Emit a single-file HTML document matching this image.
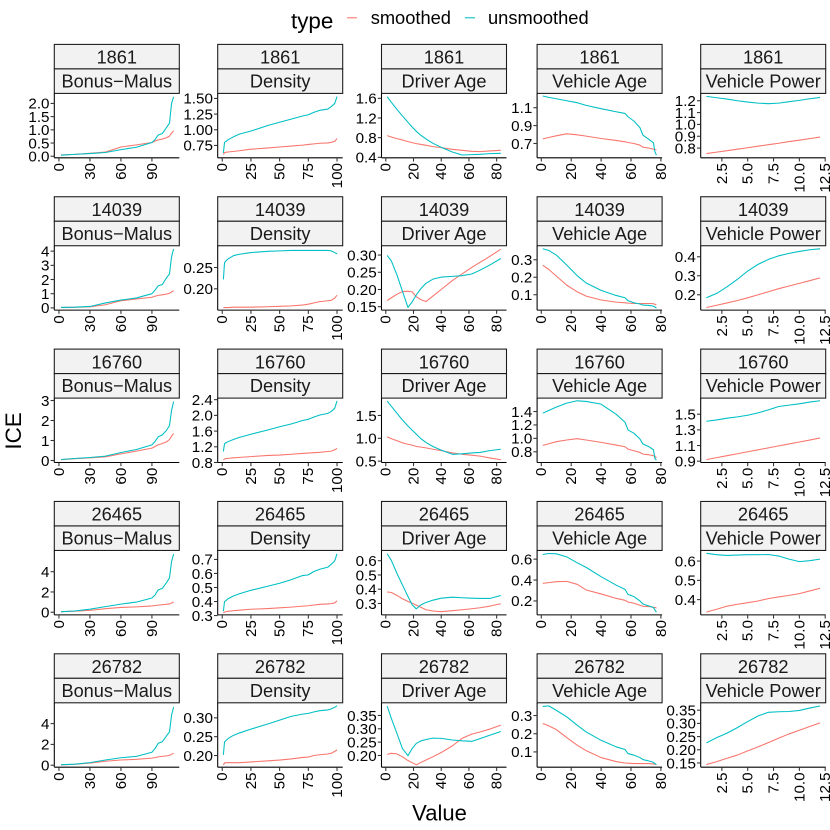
<!DOCTYPE html>
<html>
<head>
<meta charset="utf-8">
<title>ICE by feature</title>
<style>
html,body{margin:0;padding:0;background:#fff;}
svg{display:block;font-family:"Liberation Sans",sans-serif;}
</style>
</head>
<body>
<svg id="chart" width="830" height="830" viewBox="0 0 830 830" xmlns="http://www.w3.org/2000/svg">
  <g>
    <text x="291" y="28.5" font-size="22.4" fill="#000">type</text>
    <line x1="347" x2="357" y1="17.8" y2="17.8" stroke="#F8766D" stroke-width="1.07"/>
    <text x="370.7" y="24" font-size="18.3" fill="#000">smoothed</text>
    <line x1="465" x2="475" y1="17.8" y2="17.8" stroke="#00BFC4" stroke-width="1.07"/>
    <text x="488" y="24" font-size="18.3" fill="#000">unsmoothed</text>
  </g>
  <text transform="translate(21,431) rotate(-90)" text-anchor="middle" font-size="22.4" fill="#000">ICE</text>
  <text x="439.5" y="820.5" text-anchor="middle" font-size="22" fill="#000">Value</text>
  <g id="panels"></g>
</svg>
<script>
// Facet categories
const rowIds = ['1861', '14039', '16760', '26465', '26782'];
const features = ['Bonus\u2212Malus', 'Density', 'Driver Age', 'Vehicle Age', 'Vehicle Power'];

// X values at which each feature's curves were read
const xBonus = [2, 15, 30, 45, 60, 75, 90, 93, 96, 100, 104, 107, 109, 111];
const xDensity = [1, 2, 3, 5, 10, 15, 25, 40, 50, 60, 70, 75, 80, 85, 92, 95, 98, 100];
const xDriver = [1, 4, 8, 12, 16, 19, 22, 25, 29, 34, 40, 48, 55, 62, 68, 75, 83];
const xVehAge = [1, 5, 10, 17, 24, 30, 40, 50, 56, 58, 62, 66, 68, 72, 75, 76, 77];
const xVehPow = [1, 2, 3, 4, 5, 6, 7, 8, 9, 10, 11, 12];

// X axis domains and tick labels, by feature
const xDomainBonus = [-4.5, 116.5];
const xDomainDensity = [-3.95, 104.95];
const xDomainDriver = [-3.1, 87.1];
const xDomainVehAge = [-2.8, 80.8];
const xDomainVehPow = [0.45, 12.55];
const xTicksBonus = ['0', '30', '60', '90'];
const xTicksDensity = ['0', '25', '50', '75', '100'];
const xTicksDriver = ['0', '20', '40', '60', '80'];
const xTicksVehAge = ['0', '20', '40', '60', '80'];
const xTicksVehPow = ['2.5', '5.0', '7.5', '10.0', '12.5'];

// Y axis domains, one array per row
const yDomains1861 = [[-0.06, 2.38], [0.553, 1.58], [0.39, 1.70], [0.54, 1.26], [0.718, 1.262]];
const yDomains14039 = [[-0.16, 4.38], [0.15, 0.301], [0.14, 0.327], [0.012, 0.38], [0.119, 0.458]];
const yDomains16760 = [[-0.1, 3.12], [0.8, 2.44], [0.47, 1.88], [0.64, 1.6], [0.883, 1.706]];
const yDomains26465 = [[-0.26, 6.1], [0.305, 0.764], [0.22, 0.672], [0.067, 0.683], [0.321, 0.655]];
const yDomains26782 = [[-0.19, 6.0], [0.169, 0.34], [0.156, 0.3975], [0.016, 0.37], [0.134, 0.378]];

// Y tick labels, one array per row
const yTicks1861 = [['0.0', '0.5', '1.0', '1.5', '2.0'], ['0.75', '1.00', '1.25', '1.50'], ['0.4', '0.8', '1.2', '1.6'], ['0.7', '0.9', '1.1'], ['0.8', '0.9', '1.0', '1.1', '1.2']];
const yTicks14039 = [['0', '1', '2', '3', '4'], ['0.20', '0.25'], ['0.15', '0.20', '0.25', '0.30'], ['0.1', '0.2', '0.3'], ['0.2', '0.3', '0.4']];
const yTicks16760 = [['0', '1', '2', '3'], ['0.8', '1.2', '1.6', '2.0', '2.4'], ['0.5', '1.0', '1.5'], ['0.8', '1.0', '1.2', '1.4'], ['0.9', '1.1', '1.3', '1.5']];
const yTicks26465 = [['0', '2', '4'], ['0.3', '0.4', '0.5', '0.6', '0.7'], ['0.3', '0.4', '0.5', '0.6'], ['0.2', '0.4', '0.6'], ['0.4', '0.5', '0.6']];
const yTicks26782 = [['0', '2', '4'], ['0.20', '0.25', '0.30'], ['0.20', '0.25', '0.30', '0.35'], ['0.1', '0.2', '0.3'], ['0.15', '0.20', '0.25', '0.30', '0.35']];

// Row 1861
const un1861Bonus = [0.04, 0.07, 0.10, 0.14, 0.25, 0.34, 0.52, 0.63, 0.80, 0.86, 1.08, 1.25, 2.0, 2.25];
const sm1861Bonus = [0.05, 0.07, 0.11, 0.16, 0.35, 0.43, 0.52, 0.57, 0.62, 0.65, 0.70, 0.76, 0.88, 0.96];
const un1861Density = [0.63, 0.80, 0.81, 0.84, 0.89, 0.93, 0.98, 1.07, 1.12, 1.17, 1.22, 1.24, 1.28, 1.31, 1.33, 1.37, 1.42, 1.53];
const sm1861Density = [0.606, 0.635, 0.64, 0.645, 0.655, 0.665, 0.69, 0.71, 0.725, 0.74, 0.755, 0.766, 0.775, 0.785, 0.79, 0.80, 0.815, 0.86];
const un1861Driver = [1.634, 1.519, 1.376, 1.241, 1.112, 1.017, 0.929, 0.854, 0.773, 0.685, 0.603, 0.508, 0.447, 0.454, 0.461, 0.475, 0.481];
const sm1861Driver = [0.841, 0.814, 0.78, 0.753, 0.719, 0.698, 0.678, 0.664, 0.644, 0.617, 0.597, 0.563, 0.542, 0.522, 0.515, 0.529, 0.542];
const un1861VehAge = [1.231, 1.216, 1.2, 1.178, 1.156, 1.126, 1.089, 1.055, 1.036, 0.999, 0.95, 0.876, 0.793, 0.745, 0.707, 0.607, 0.569];
const sm1861VehAge = [0.752, 0.767, 0.786, 0.808, 0.797, 0.782, 0.756, 0.734, 0.719, 0.711, 0.70, 0.681, 0.659, 0.648, 0.636, 0.633, 0.629];
const un1861VehPow = [1.237, 1.225, 1.214, 1.2, 1.189, 1.18, 1.175, 1.18, 1.192, 1.203, 1.217, 1.228];
const sm1861VehPow = [0.754, 0.766, 0.778, 0.791, 0.803, 0.816, 0.829, 0.841, 0.855, 0.867, 0.88, 0.893];

// Row 14039
const un14039Bonus = [0.03, 0.05, 0.10, 0.35, 0.55, 0.70, 1.0, 1.25, 1.55, 1.65, 2.1, 2.4, 3.6, 4.15];
const sm14039Bonus = [0.03, 0.04, 0.07, 0.22, 0.50, 0.63, 0.75, 0.82, 0.88, 0.92, 0.97, 1.03, 1.12, 1.22];
const un14039Density = [0.222, 0.261, 0.265, 0.27, 0.278, 0.281, 0.285, 0.288, 0.289, 0.29, 0.29, 0.29, 0.29, 0.29, 0.29, 0.289, 0.285, 0.282];
const sm14039Density = [0.156, 0.156, 0.156, 0.156, 0.157, 0.157, 0.157, 0.158, 0.159, 0.160, 0.162, 0.164, 0.167, 0.17, 0.172, 0.173, 0.178, 0.185];
const un14039Driver = [0.299, 0.283, 0.243, 0.195, 0.148, 0.164, 0.184, 0.201, 0.218, 0.23, 0.236, 0.238, 0.24, 0.245, 0.256, 0.271, 0.29];
const sm14039Driver = [0.168, 0.176, 0.186, 0.194, 0.195, 0.193, 0.179, 0.171, 0.165, 0.181, 0.2, 0.226, 0.245, 0.264, 0.279, 0.296, 0.317];
const un14039VehAge = [0.363, 0.353, 0.327, 0.27, 0.209, 0.167, 0.125, 0.096, 0.083, 0.066, 0.054, 0.047, 0.041, 0.039, 0.035, 0.03, 0.024];
const sm14039VehAge = [0.268, 0.245, 0.207, 0.155, 0.117, 0.092, 0.07, 0.058, 0.054, 0.052, 0.05, 0.05, 0.05, 0.05, 0.049, 0.045, 0.041];
const un14039VehPow = [0.184, 0.207, 0.242, 0.281, 0.325, 0.36, 0.386, 0.405, 0.418, 0.428, 0.437, 0.442];
const sm14039VehPow = [0.133, 0.145, 0.157, 0.17, 0.184, 0.2, 0.216, 0.232, 0.246, 0.26, 0.274, 0.289];

// Row 16760
const un16760Bonus = [0.05, 0.10, 0.15, 0.22, 0.40, 0.55, 0.78, 0.95, 1.18, 1.28, 1.5, 1.75, 2.5, 2.95];
const sm16760Bonus = [0.04, 0.09, 0.13, 0.18, 0.33, 0.47, 0.62, 0.70, 0.78, 0.85, 0.93, 1.05, 1.22, 1.35];
const un16760Density = [1.08, 1.28, 1.30, 1.33, 1.39, 1.44, 1.52, 1.63, 1.71, 1.78, 1.87, 1.90, 1.96, 2.01, 2.05, 2.10, 2.18, 2.37];
const sm16760Density = [0.86, 0.89, 0.90, 0.905, 0.92, 0.93, 0.95, 0.98, 0.99, 1.01, 1.03, 1.04, 1.05, 1.06, 1.08, 1.09, 1.12, 1.16];
const un16760Driver = [1.816, 1.70, 1.55, 1.40, 1.27, 1.18, 1.09, 1.0, 0.91, 0.82, 0.74, 0.65, 0.66, 0.68, 0.69, 0.73, 0.76];
const sm16760Driver = [1.03, 0.99, 0.95, 0.90, 0.87, 0.85, 0.82, 0.81, 0.79, 0.76, 0.73, 0.68, 0.65, 0.63, 0.61, 0.57, 0.53];
const un16760VehAge = [1.375, 1.415, 1.465, 1.525, 1.56, 1.55, 1.51, 1.36, 1.24, 1.125, 1.075, 0.99, 0.915, 0.875, 0.83, 0.70, 0.675];
const sm16760VehAge = [0.895, 0.92, 0.95, 0.975, 0.995, 0.975, 0.94, 0.90, 0.875, 0.84, 0.815, 0.79, 0.765, 0.755, 0.74, 0.735, 0.71];
const un16760VehPow = [1.41, 1.427, 1.449, 1.466, 1.487, 1.517, 1.556, 1.599, 1.616, 1.633, 1.655, 1.672];
const sm16760VehPow = [0.92, 0.945, 0.97, 0.995, 1.02, 1.045, 1.07, 1.095, 1.12, 1.145, 1.17, 1.197];

// Row 26465
const un26465Bonus = [0.05, 0.12, 0.30, 0.55, 0.80, 1.0, 1.4, 1.7, 2.2, 2.35, 2.9, 3.4, 5.0, 5.75];
const sm26465Bonus = [0.05, 0.10, 0.18, 0.35, 0.47, 0.53, 0.62, 0.66, 0.70, 0.74, 0.78, 0.82, 0.90, 1.02];
const un26465Density = [0.33, 0.40, 0.405, 0.42, 0.44, 0.455, 0.48, 0.51, 0.53, 0.555, 0.585, 0.59, 0.615, 0.63, 0.645, 0.665, 0.69, 0.74];
const sm26465Density = [0.32, 0.325, 0.327, 0.33, 0.335, 0.338, 0.345, 0.35, 0.355, 0.36, 0.367, 0.37, 0.375, 0.38, 0.383, 0.385, 0.39, 0.405];
const un26465Driver = [0.649, 0.602, 0.512, 0.43, 0.349, 0.291, 0.262, 0.288, 0.307, 0.323, 0.337, 0.344, 0.34, 0.337, 0.335, 0.335, 0.356];
const sm26465Driver = [0.381, 0.377, 0.356, 0.333, 0.314, 0.302, 0.288, 0.274, 0.256, 0.247, 0.242, 0.249, 0.256, 0.263, 0.27, 0.281, 0.298];
const un26465VehAge = [0.644, 0.654, 0.651, 0.622, 0.565, 0.521, 0.432, 0.352, 0.311, 0.263, 0.241, 0.20, 0.171, 0.152, 0.137, 0.114, 0.092];
const sm26465VehAge = [0.368, 0.375, 0.384, 0.387, 0.359, 0.305, 0.267, 0.225, 0.206, 0.19, 0.178, 0.159, 0.149, 0.146, 0.14, 0.137, 0.133];
const un26465VehPow = [0.64, 0.633, 0.629, 0.631, 0.633, 0.633, 0.634, 0.626, 0.61, 0.597, 0.602, 0.61];
const sm26465VehPow = [0.336, 0.35, 0.366, 0.376, 0.384, 0.393, 0.405, 0.414, 0.422, 0.431, 0.445, 0.459];

// Row 26782
const un26782Bonus = [0.05, 0.10, 0.25, 0.50, 0.72, 0.85, 1.25, 1.6, 2.1, 2.25, 2.8, 3.2, 4.8, 5.6];
const sm26782Bonus = [0.04, 0.08, 0.20, 0.38, 0.50, 0.57, 0.68, 0.73, 0.80, 0.85, 0.90, 0.96, 1.05, 1.15];
const un26782Density = [0.202, 0.236, 0.239, 0.245, 0.254, 0.26, 0.27, 0.284, 0.294, 0.304, 0.31, 0.312, 0.316, 0.319, 0.321, 0.324, 0.328, 0.332];
const sm26782Density = [0.175, 0.18, 0.181, 0.181, 0.181, 0.181, 0.183, 0.186, 0.188, 0.191, 0.195, 0.196, 0.20, 0.202, 0.204, 0.206, 0.211, 0.215];
const un26782Driver = [0.385, 0.339, 0.283, 0.226, 0.199, 0.226, 0.245, 0.254, 0.26, 0.265, 0.264, 0.258, 0.255, 0.253, 0.263, 0.276, 0.29];
const sm26782Driver = [0.204, 0.208, 0.206, 0.195, 0.181, 0.173, 0.165, 0.173, 0.183, 0.195, 0.211, 0.236, 0.264, 0.28, 0.288, 0.299, 0.314];
const un26782VehAge = [0.35, 0.353, 0.329, 0.293, 0.247, 0.21, 0.164, 0.128, 0.113, 0.091, 0.082, 0.069, 0.058, 0.05, 0.043, 0.036, 0.03];
const sm26782VehAge = [0.256, 0.243, 0.223, 0.179, 0.137, 0.107, 0.069, 0.047, 0.039, 0.038, 0.036, 0.036, 0.036, 0.036, 0.034, 0.032, 0.03];
const un26782VehPow = [0.226, 0.246, 0.263, 0.284, 0.307, 0.328, 0.342, 0.344, 0.345, 0.349, 0.358, 0.366];
const sm26782VehPow = [0.144, 0.155, 0.168, 0.18, 0.196, 0.211, 0.227, 0.244, 0.26, 0.274, 0.288, 0.302];

const xValues = [xBonus, xDensity, xDriver, xVehAge, xVehPow];
const xDomains = [xDomainBonus, xDomainDensity, xDomainDriver, xDomainVehAge, xDomainVehPow];
const xTicks = [xTicksBonus, xTicksDensity, xTicksDriver, xTicksVehAge, xTicksVehPow];
const yDomains = [yDomains1861, yDomains14039, yDomains16760, yDomains26465, yDomains26782];
const yTicks = [yTicks1861, yTicks14039, yTicks16760, yTicks26465, yTicks26782];
const smoothedRows = [
  [sm1861Bonus, sm1861Density, sm1861Driver, sm1861VehAge, sm1861VehPow],
  [sm14039Bonus, sm14039Density, sm14039Driver, sm14039VehAge, sm14039VehPow],
  [sm16760Bonus, sm16760Density, sm16760Driver, sm16760VehAge, sm16760VehPow],
  [sm26465Bonus, sm26465Density, sm26465Driver, sm26465VehAge, sm26465VehPow],
  [sm26782Bonus, sm26782Density, sm26782Driver, sm26782VehAge, sm26782VehPow]
];
const unsmoothedRows = [
  [un1861Bonus, un1861Density, un1861Driver, un1861VehAge, un1861VehPow],
  [un14039Bonus, un14039Density, un14039Driver, un14039VehAge, un14039VehPow],
  [un16760Bonus, un16760Density, un16760Driver, un16760VehAge, un16760VehPow],
  [un26465Bonus, un26465Density, un26465Driver, un26465VehAge, un26465VehPow],
  [un26782Bonus, un26782Density, un26782Driver, un26782VehAge, un26782VehPow]
];

const NS = 'http://www.w3.org/2000/svg';
const root = document.getElementById('panels');
const colLeft = [54.3, 217.7, 381.5, 537.1, 700.7];
const panelW = 125;
const stripH = 24.5;
const panelH = 64.4;
const rowPitch = 152.35;
const firstTop = 44.4;
const lineW = 1.07;
const tickFont = 15.2;

function slug(s) {
  return s.toLowerCase().replace(/[^a-z0-9]+/g, '-');
}
function make(tag, attrs, parent) {
  const el = document.createElementNS(NS, tag);
  for (const k in attrs) el.setAttribute(k, attrs[k]);
  parent.appendChild(el);
  return el;
}

rowIds.forEach(function (rowId, r) {
  features.forEach(function (feature, c) {
    const left = colLeft[c];
    const right = left + panelW;
    const stripTop = firstTop + rowPitch * r;
    const top = stripTop + 2 * stripH;
    const bottom = top + panelH;
    const xd = xDomains[c];
    const yd = yDomains[r][c];
    const sx = function (v) { return left + (v - xd[0]) / (xd[1] - xd[0]) * panelW; };
    const sy = function (v) { return bottom - (v - yd[0]) / (yd[1] - yd[0]) * panelH; };
    const key = rowId + '-' + slug(feature);

    const g = make('g', {}, root);
    
    

    const strip1 = make('rect', { x: left, y: stripTop, width: panelW, height: stripH, fill: '#f2f2f2', stroke: '#1a1a1a', 'stroke-width': lineW }, g);
    
    
    const strip2 = make('rect', { x: left, y: stripTop + stripH, width: panelW, height: stripH, fill: '#f2f2f2', stroke: '#1a1a1a', 'stroke-width': lineW }, g);
    
    

    const t1 = make('text', { x: left + panelW / 2, y: stripTop + 19.2, 'text-anchor': 'middle', 'font-size': 18.2, fill: '#1a1a1a' }, g);
    t1.textContent = rowId;
    
    
    const t2 = make('text', { x: left + panelW / 2, y: stripTop + stripH + 18.6, 'text-anchor': 'middle', 'font-size': 18.2, fill: '#1a1a1a' }, g);
    t2.textContent = feature;
    
    

    const axisY = make('line', { x1: left, x2: left, y1: top, y2: bottom, stroke: '#000', 'stroke-width': lineW }, g);
    
    
    const axisX = make('line', { x1: left, x2: right, y1: bottom, y2: bottom, stroke: '#000', 'stroke-width': lineW }, g);
    
    

    yTicks[r][c].forEach(function (label) {
      const py = sy(parseFloat(label));
      const tick = make('line', { x1: left - 3.7, x2: left, y1: py, y2: py, stroke: '#333', 'stroke-width': lineW }, g);
      
      
      const txt = make('text', { x: left - 4.8, y: py + 5.3, 'text-anchor': 'end', 'font-size': tickFont, fill: '#000' }, g);
      txt.textContent = label;
      
      
    });

    xTicks[c].forEach(function (label) {
      const px = sx(parseFloat(label));
      const tick = make('line', { x1: px, x2: px, y1: bottom, y2: bottom + 3.7, stroke: '#333', 'stroke-width': lineW }, g);
      
      
      const txt = make('text', { transform: 'translate(' + (px + 4.9) + ',' + (bottom + 5.2) + ') rotate(-90)', 'text-anchor': 'end', 'font-size': tickFont, fill: '#000' }, g);
      txt.textContent = label;
      
      
    });

    const xs = xValues[c];
    const toPoints = function (ys) {
      return ys.map(function (v, i) { return sx(xs[i]).toFixed(2) + ',' + sy(v).toFixed(2); }).join(' ');
    };
    const smLine = make('polyline', { points: toPoints(smoothedRows[r][c]), fill: 'none', stroke: '#F8766D', 'stroke-width': lineW, 'stroke-linejoin': 'round' }, g);
    
    
    const unLine = make('polyline', { points: toPoints(unsmoothedRows[r][c]), fill: 'none', stroke: '#00BFC4', 'stroke-width': lineW, 'stroke-linejoin': 'round' }, g);
    
    
  });
});
</script>
</body>
</html>
